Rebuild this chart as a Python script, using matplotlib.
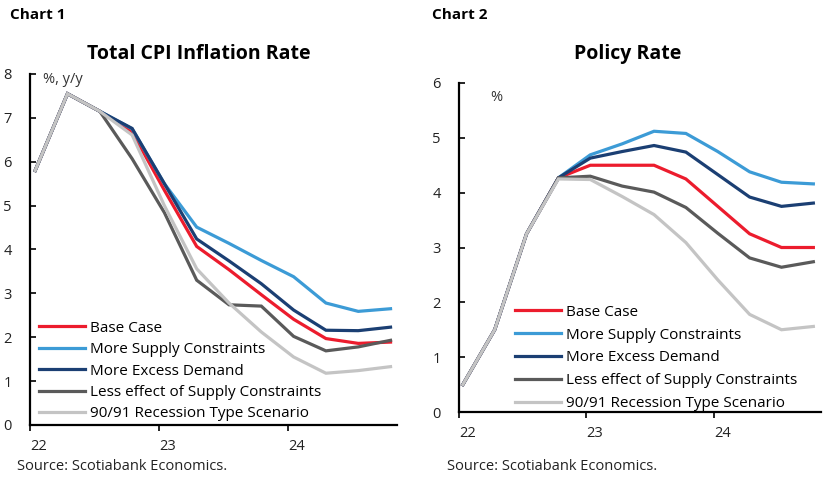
import numpy as np
import matplotlib
matplotlib.use("Agg")
import matplotlib.pyplot as plt

plt.rcParams['font.family'] = ['Open Sans', 'DejaVu Sans']

# quarterly points 22Q1 .. 24Q4
quarters = np.arange(12)
labels = ["Base Case", "More Supply Constraints", "More Excess Demand",
          "Less effect of Supply Constraints", "90/91 Recession Type Scenario"]
colors = ["#EC1C2D", "#3C9BD6", "#1B3F73", "#5A5A5A", "#C4C4C4"]

# Chart 1: Total CPI inflation, %, y/y
cpi_base = [5.8, 7.55, 7.15, 6.68, 5.35, 4.07, 3.54, 2.97, 2.41, 1.97, 1.86, 1.89]
cpi_supply = [5.8, 7.55, 7.15, 6.75, 5.5, 4.51, 4.14, 3.75, 3.38, 2.78, 2.59, 2.65]
cpi_demand = [5.8, 7.55, 7.15, 6.76, 5.5, 4.24, 3.74, 3.22, 2.62, 2.16, 2.15, 2.23]
cpi_less = [5.8, 7.55, 7.15, 6.07, 4.84, 3.3, 2.74, 2.71, 2.02, 1.69, 1.78, 1.93]
cpi_9091 = [5.8, 7.55, 7.15, 6.61, 5.0, 3.56, 2.78, 2.12, 1.55, 1.18, 1.24, 1.33]

# Chart 2: policy rate, %
pol_base = [0.5, 1.5, 3.25, 4.27, 4.5, 4.5, 4.5, 4.25, 3.75, 3.25, 3.0, 3.0]
pol_supply = [0.5, 1.5, 3.25, 4.27, 4.69, 4.89, 5.12, 5.08, 4.75, 4.38, 4.19, 4.16]
pol_demand = [0.5, 1.5, 3.25, 4.27, 4.63, 4.75, 4.86, 4.74, 4.33, 3.92, 3.75, 3.81]
pol_less = [0.5, 1.5, 3.25, 4.27, 4.3, 4.12, 4.01, 3.73, 3.26, 2.81, 2.64, 2.74]
pol_9091 = [0.5, 1.5, 3.25, 4.25, 4.24, 3.93, 3.6, 3.09, 2.41, 1.78, 1.5, 1.56]

W, H = 828, 483
fig = plt.figure(figsize=(W / 100, H / 100), dpi=100)


def px_axes(l, t, r, b):
    return fig.add_axes([l / W, 1 - b / H, (r - l) / W, (b - t) / H])


def style(ax, ymax):
    for s in ["top", "right"]:
        ax.spines[s].set_visible(False)
    for s in ["left", "bottom"]:
        ax.spines[s].set_linewidth(1.6)
        ax.spines[s].set_color("black")
    ax.set_ylim(0, ymax)
    ax.set_xlim(22, 24.84)
    ax.set_xticks([22, 23, 24])
    ax.set_xticklabels(["22", "23", "24"], ha="left")
    ax.set_yticks(range(ymax + 1))
    ax.tick_params(axis="y", direction="in", length=4, width=1.2,
                   labelsize=10.5, pad=13, labelcolor="#222222")
    ax.tick_params(axis="x", direction="out", length=4, width=1.2,
                   labelsize=10.5, pad=6, labelcolor="#222222")


ax1 = px_axes(30, 74, 397, 425)
x1 = 22 + quarters / 4 + 0.04
for ys, lab, c in zip([cpi_base, cpi_supply, cpi_demand, cpi_less, cpi_9091], labels, colors):
    ax1.plot(x1, ys, color=c, lw=2.3, label=lab, solid_joinstyle="miter")
style(ax1, 8)
ax1.text(0.035, 0.985, "%, y/y", transform=ax1.transAxes, fontsize=10.5,
         color="#333333", va="center", ha="left")
ax1.legend(loc="lower left", bbox_to_anchor=(0.0, -0.016), frameon=False, fontsize=11,
           handlelength=3.0, handletextpad=0.3, labelspacing=0.42, borderaxespad=0.2)

ax2 = px_axes(459, 83, 821, 412)
x2 = 22 + quarters / 4 + 0.03
for ys, lab, c in zip([pol_base, pol_supply, pol_demand, pol_less, pol_9091], labels, colors):
    ax2.plot(x2, ys, color=c, lw=2.3, label=lab, solid_joinstyle="miter")
style(ax2, 6)
ax2.text(0.085, 0.955, "%", transform=ax2.transAxes, fontsize=10.5,
         color="#333333", va="center", ha="left")
ax2.legend(loc="lower left", bbox_to_anchor=(0.13, -0.026), frameon=False, fontsize=11,
           handlelength=3.0, handletextpad=0.3, labelspacing=0.52, borderaxespad=0.2)

fig.text(10 / W, 1 - 15 / H, "Chart 1", fontsize=11, fontweight="bold", va="center")
fig.text(432 / W, 1 - 15 / H, "Chart 2", fontsize=11, fontweight="bold", va="center")
fig.text(199 / W, 1 - 54 / H, "Total CPI Inflation Rate", fontsize=14, fontweight="bold",
         ha="center", va="center")
fig.text(628 / W, 1 - 54 / H, "Policy Rate", fontsize=14, fontweight="bold",
         ha="center", va="center")
fig.text(17 / W, 1 - 466 / H, "Source: Scotiabank Economics.", fontsize=10.5,
         color="#222222", va="center")
fig.text(447 / W, 1 - 466 / H, "Source: Scotiabank Economics.", fontsize=10.5,
         color="#222222", va="center")

fig.savefig("out.png", dpi=100)
